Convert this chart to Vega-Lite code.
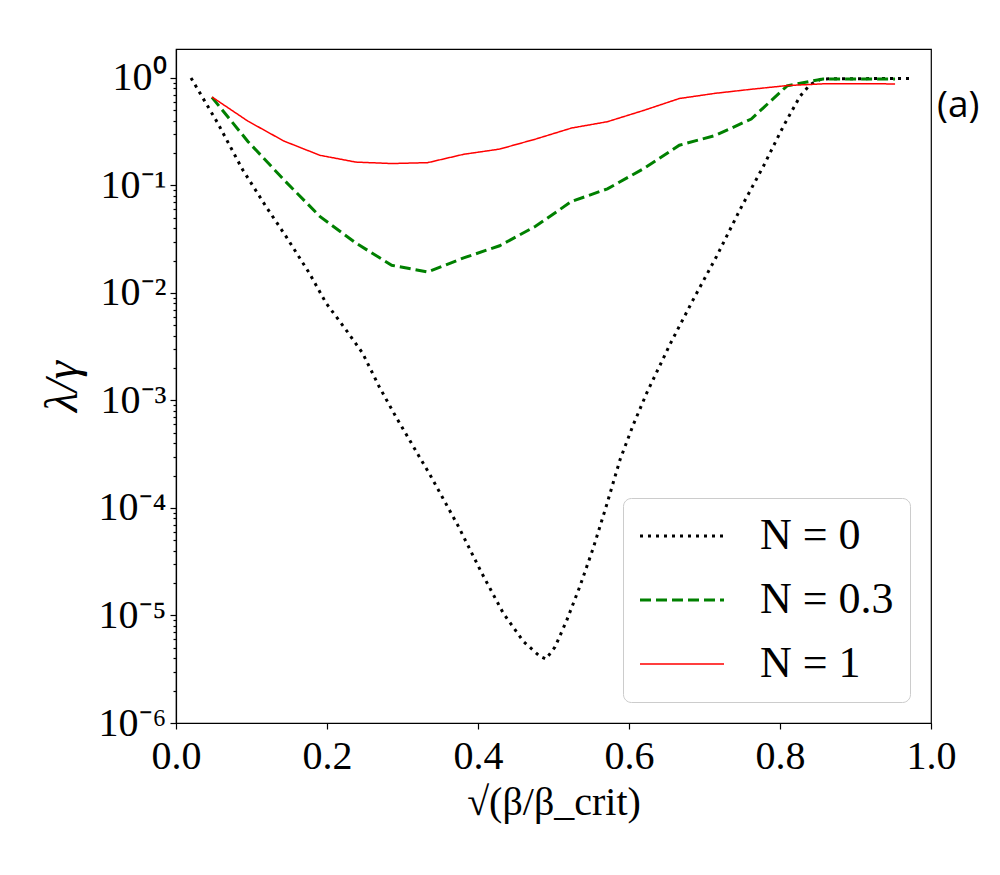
{
  "$schema": "https://vega.github.io/schema/vega-lite/v6.json",
  "width": 755,
  "height": 674,
  "autosize": {"type": "none"},
  "padding": {"left": 176, "top": 49, "right": 69, "bottom": 152},
  "background": "white",
  "datasets": {
    "curves": [
      {"series": "N = 0", "x": 0.0199, "y": 1.0},
      {"series": "N = 0", "x": 0.0552, "y": 0.381},
      {"series": "N = 0", "x": 0.0883, "y": 0.14},
      {"series": "N = 0", "x": 0.119, "y": 0.064},
      {"series": "N = 0", "x": 0.1457, "y": 0.0336},
      {"series": "N = 0", "x": 0.1766, "y": 0.0153},
      {"series": "N = 0", "x": 0.1987, "y": 0.00807},
      {"series": "N = 0", "x": 0.225, "y": 0.00456},
      {"series": "N = 0", "x": 0.247, "y": 0.00277},
      {"series": "N = 0", "x": 0.269, "y": 0.00135},
      {"series": "N = 0", "x": 0.291, "y": 0.000711},
      {"series": "N = 0", "x": 0.322, "y": 0.000302},
      {"series": "N = 0", "x": 0.3364, "y": 0.000204},
      {"series": "N = 0", "x": 0.374, "y": 0.0000675},
      {"series": "N = 0", "x": 0.405, "y": 0.0000248},
      {"series": "N = 0", "x": 0.4335, "y": 0.0000105},
      {"series": "N = 0", "x": 0.46, "y": 0.00000575},
      {"series": "N = 0", "x": 0.482, "y": 0.00000417},
      {"series": "N = 0", "x": 0.49, "y": 0.00000394},
      {"series": "N = 0", "x": 0.502, "y": 0.00000509},
      {"series": "N = 0", "x": 0.5175, "y": 0.000009},
      {"series": "N = 0", "x": 0.535, "y": 0.0000187},
      {"series": "N = 0", "x": 0.5527, "y": 0.0000425},
      {"series": "N = 0", "x": 0.5704, "y": 0.000107},
      {"series": "N = 0", "x": 0.5881, "y": 0.000281},
      {"series": "N = 0", "x": 0.6057, "y": 0.000596},
      {"series": "N = 0", "x": 0.6234, "y": 0.00117},
      {"series": "N = 0", "x": 0.654, "y": 0.0033},
      {"series": "N = 0", "x": 0.685, "y": 0.00867},
      {"series": "N = 0", "x": 0.716, "y": 0.0219},
      {"series": "N = 0", "x": 0.747, "y": 0.0596},
      {"series": "N = 0", "x": 0.778, "y": 0.151},
      {"series": "N = 0", "x": 0.8044, "y": 0.355},
      {"series": "N = 0", "x": 0.8265, "y": 0.675},
      {"series": "N = 0", "x": 0.8397, "y": 0.867},
      {"series": "N = 0", "x": 0.855, "y": 0.98},
      {"series": "N = 0", "x": 0.9, "y": 0.985},
      {"series": "N = 0", "x": 0.975, "y": 0.99},
      {"series": "N = 0.3", "x": 0.0476, "y": 0.66},
      {"series": "N = 0.3", "x": 0.0952, "y": 0.257},
      {"series": "N = 0.3", "x": 0.1429, "y": 0.113},
      {"series": "N = 0.3", "x": 0.1905, "y": 0.0516},
      {"series": "N = 0.3", "x": 0.2381, "y": 0.0292},
      {"series": "N = 0.3", "x": 0.2857, "y": 0.0181},
      {"series": "N = 0.3", "x": 0.3333, "y": 0.0157},
      {"series": "N = 0.3", "x": 0.381, "y": 0.0212},
      {"series": "N = 0.3", "x": 0.4286, "y": 0.0275},
      {"series": "N = 0.3", "x": 0.4762, "y": 0.0417},
      {"series": "N = 0.3", "x": 0.5238, "y": 0.071},
      {"series": "N = 0.3", "x": 0.5714, "y": 0.093},
      {"series": "N = 0.3", "x": 0.619, "y": 0.143},
      {"series": "N = 0.3", "x": 0.6667, "y": 0.237},
      {"series": "N = 0.3", "x": 0.7143, "y": 0.292},
      {"series": "N = 0.3", "x": 0.7619, "y": 0.415},
      {"series": "N = 0.3", "x": 0.8095, "y": 0.845},
      {"series": "N = 0.3", "x": 0.8571, "y": 0.98},
      {"series": "N = 0.3", "x": 0.9048, "y": 0.98},
      {"series": "N = 0.3", "x": 0.9524, "y": 0.98},
      {"series": "N = 1", "x": 0.0476, "y": 0.666},
      {"series": "N = 1", "x": 0.0952, "y": 0.397},
      {"series": "N = 1", "x": 0.1429, "y": 0.259},
      {"series": "N = 1", "x": 0.1905, "y": 0.191},
      {"series": "N = 1", "x": 0.2381, "y": 0.165},
      {"series": "N = 1", "x": 0.2857, "y": 0.16},
      {"series": "N = 1", "x": 0.3333, "y": 0.163},
      {"series": "N = 1", "x": 0.381, "y": 0.195},
      {"series": "N = 1", "x": 0.4286, "y": 0.218},
      {"series": "N = 1", "x": 0.4762, "y": 0.27},
      {"series": "N = 1", "x": 0.5238, "y": 0.342},
      {"series": "N = 1", "x": 0.5714, "y": 0.392},
      {"series": "N = 1", "x": 0.619, "y": 0.498},
      {"series": "N = 1", "x": 0.6667, "y": 0.644},
      {"series": "N = 1", "x": 0.7143, "y": 0.72},
      {"series": "N = 1", "x": 0.7619, "y": 0.785},
      {"series": "N = 1", "x": 0.8095, "y": 0.85},
      {"series": "N = 1", "x": 0.8571, "y": 0.882},
      {"series": "N = 1", "x": 0.9048, "y": 0.885},
      {"series": "N = 1", "x": 0.9524, "y": 0.88}
    ],
    "tag": [{"x": 1.008, "y": 0.552, "label": "(a)"}]
  },
  "layer": [
    {
      "data": {"name": "curves"},
      "mark": {"type": "line", "clip": true, "strokeCap": "butt"},
      "encoding": {
        "x": {
          "field": "x",
          "type": "quantitative",
          "scale": {"domain": [0, 1], "nice": false, "zero": false},
          "axis": {
            "values": [0, 0.2, 0.4, 0.6, 0.8, 1.0],
            "format": ".1f",
            "grid": false,
            "labelFlush": false,
            "labelOverlap": false,
            "labelFont": "Liberation Serif",
            "labelFontSize": 40,
            "labelColor": "black",
            "labelPadding": 7,
            "tickSize": 6,
            "tickColor": "black",
            "domainColor": "black",
            "title": "√(β/β_crit)",
            "titleFont": "Liberation Serif",
            "titleFontSize": 40,
            "titleFontWeight": "normal",
            "titleColor": "black",
            "titlePadding": 6
          }
        },
        "y": {
          "field": "y",
          "type": "quantitative",
          "scale": {"type": "log", "domain": [0.000001, 1.86], "nice": false},
          "axis": {
            "values": [0.000001, 0.000002, 0.000003, 0.000004, 0.000005, 0.000006, 0.000007, 0.000008, 0.000009,
                       0.00001, 0.00002, 0.00003, 0.00004, 0.00005, 0.00006, 0.00007, 0.00008, 0.00009,
                       0.0001, 0.0002, 0.0003, 0.0004, 0.0005, 0.0006, 0.0007, 0.0008, 0.0009,
                       0.001, 0.002, 0.003, 0.004, 0.005, 0.006, 0.007, 0.008, 0.009,
                       0.01, 0.02, 0.03, 0.04, 0.05, 0.06, 0.07, 0.08, 0.09,
                       0.1, 0.2, 0.3, 0.4, 0.5, 0.6, 0.7, 0.8, 0.9, 1],
            "labelExpr": "abs(log(datum.value) / LN10 - round(log(datum.value) / LN10)) < 0.001 ? '10' + ['⁻⁶','⁻⁵','⁻⁴','⁻³','⁻²','⁻¹','⁰'][round(log(datum.value) / LN10) + 6] : ''",
            "tickSize": {
              "condition": {"test": "abs(log(datum.value) / LN10 - round(log(datum.value) / LN10)) < 0.001", "value": 6},
              "value": 3
            },
            "grid": false,
            "labelFlush": false,
            "labelOverlap": false,
            "labelFont": "Liberation Serif",
            "labelFontSize": 40,
            "labelColor": "black",
            "labelPadding": 4,
            "tickColor": "black",
            "domainColor": "black",
            "title": "λ/γ",
            "titleFont": "Liberation Serif",
            "titleFontStyle": "italic",
            "titleFontSize": 46,
            "titleFontWeight": "normal",
            "titleColor": "black",
            "titlePadding": 12
          }
        },
        "color": {
          "field": "series",
          "type": "nominal",
          "scale": {"domain": ["N = 0", "N = 0.3", "N = 1"], "range": ["#000000", "#008000", "#ff0000"]},
          "legend": {
            "title": null,
            "orient": "bottom-right",
            "offset": 21,
            "symbolType": "stroke",
            "symbolSize": 7056,
            "symbolOffset": 21,
            "labelFont": "Liberation Serif",
            "labelFontSize": 44,
            "labelColor": "black",
            "labelOffset": 56,
            "labelLimit": 300,
            "rowPadding": 20,
            "padding": 16,
            "strokeColor": "#cccccc",
            "fillColor": "white",
            "cornerRadius": 8,
            "encode": {
              "symbols": {
                "update": {
                  "strokeWidth": {"signal": "datum.value === 'N = 1' ? 1.5 : 3"}
                }
              }
            }
          }
        },
        "strokeDash": {
          "field": "series",
          "type": "nominal",
          "scale": {"domain": ["N = 0", "N = 0.3", "N = 1"], "range": [[3, 5], [11, 5], [1, 0]]}
        },
        "strokeWidth": {
          "condition": {"test": "datum.series === 'N = 1'", "value": 1.5},
          "value": 3
        }
      }
    },
    {
      "data": {"name": "tag"},
      "mark": {"type": "text", "align": "left", "baseline": "middle", "font": "Open Sans", "fontSize": 37, "color": "black"},
      "encoding": {
        "x": {"field": "x", "type": "quantitative"},
        "y": {"field": "y", "type": "quantitative"},
        "text": {"field": "label"}
      }
    }
  ],
  "config": {
    "view": {"stroke": "black", "strokeWidth": 1.2},
    "axis": {"domainWidth": 1.2, "tickWidth": 1.2}
  }
}
